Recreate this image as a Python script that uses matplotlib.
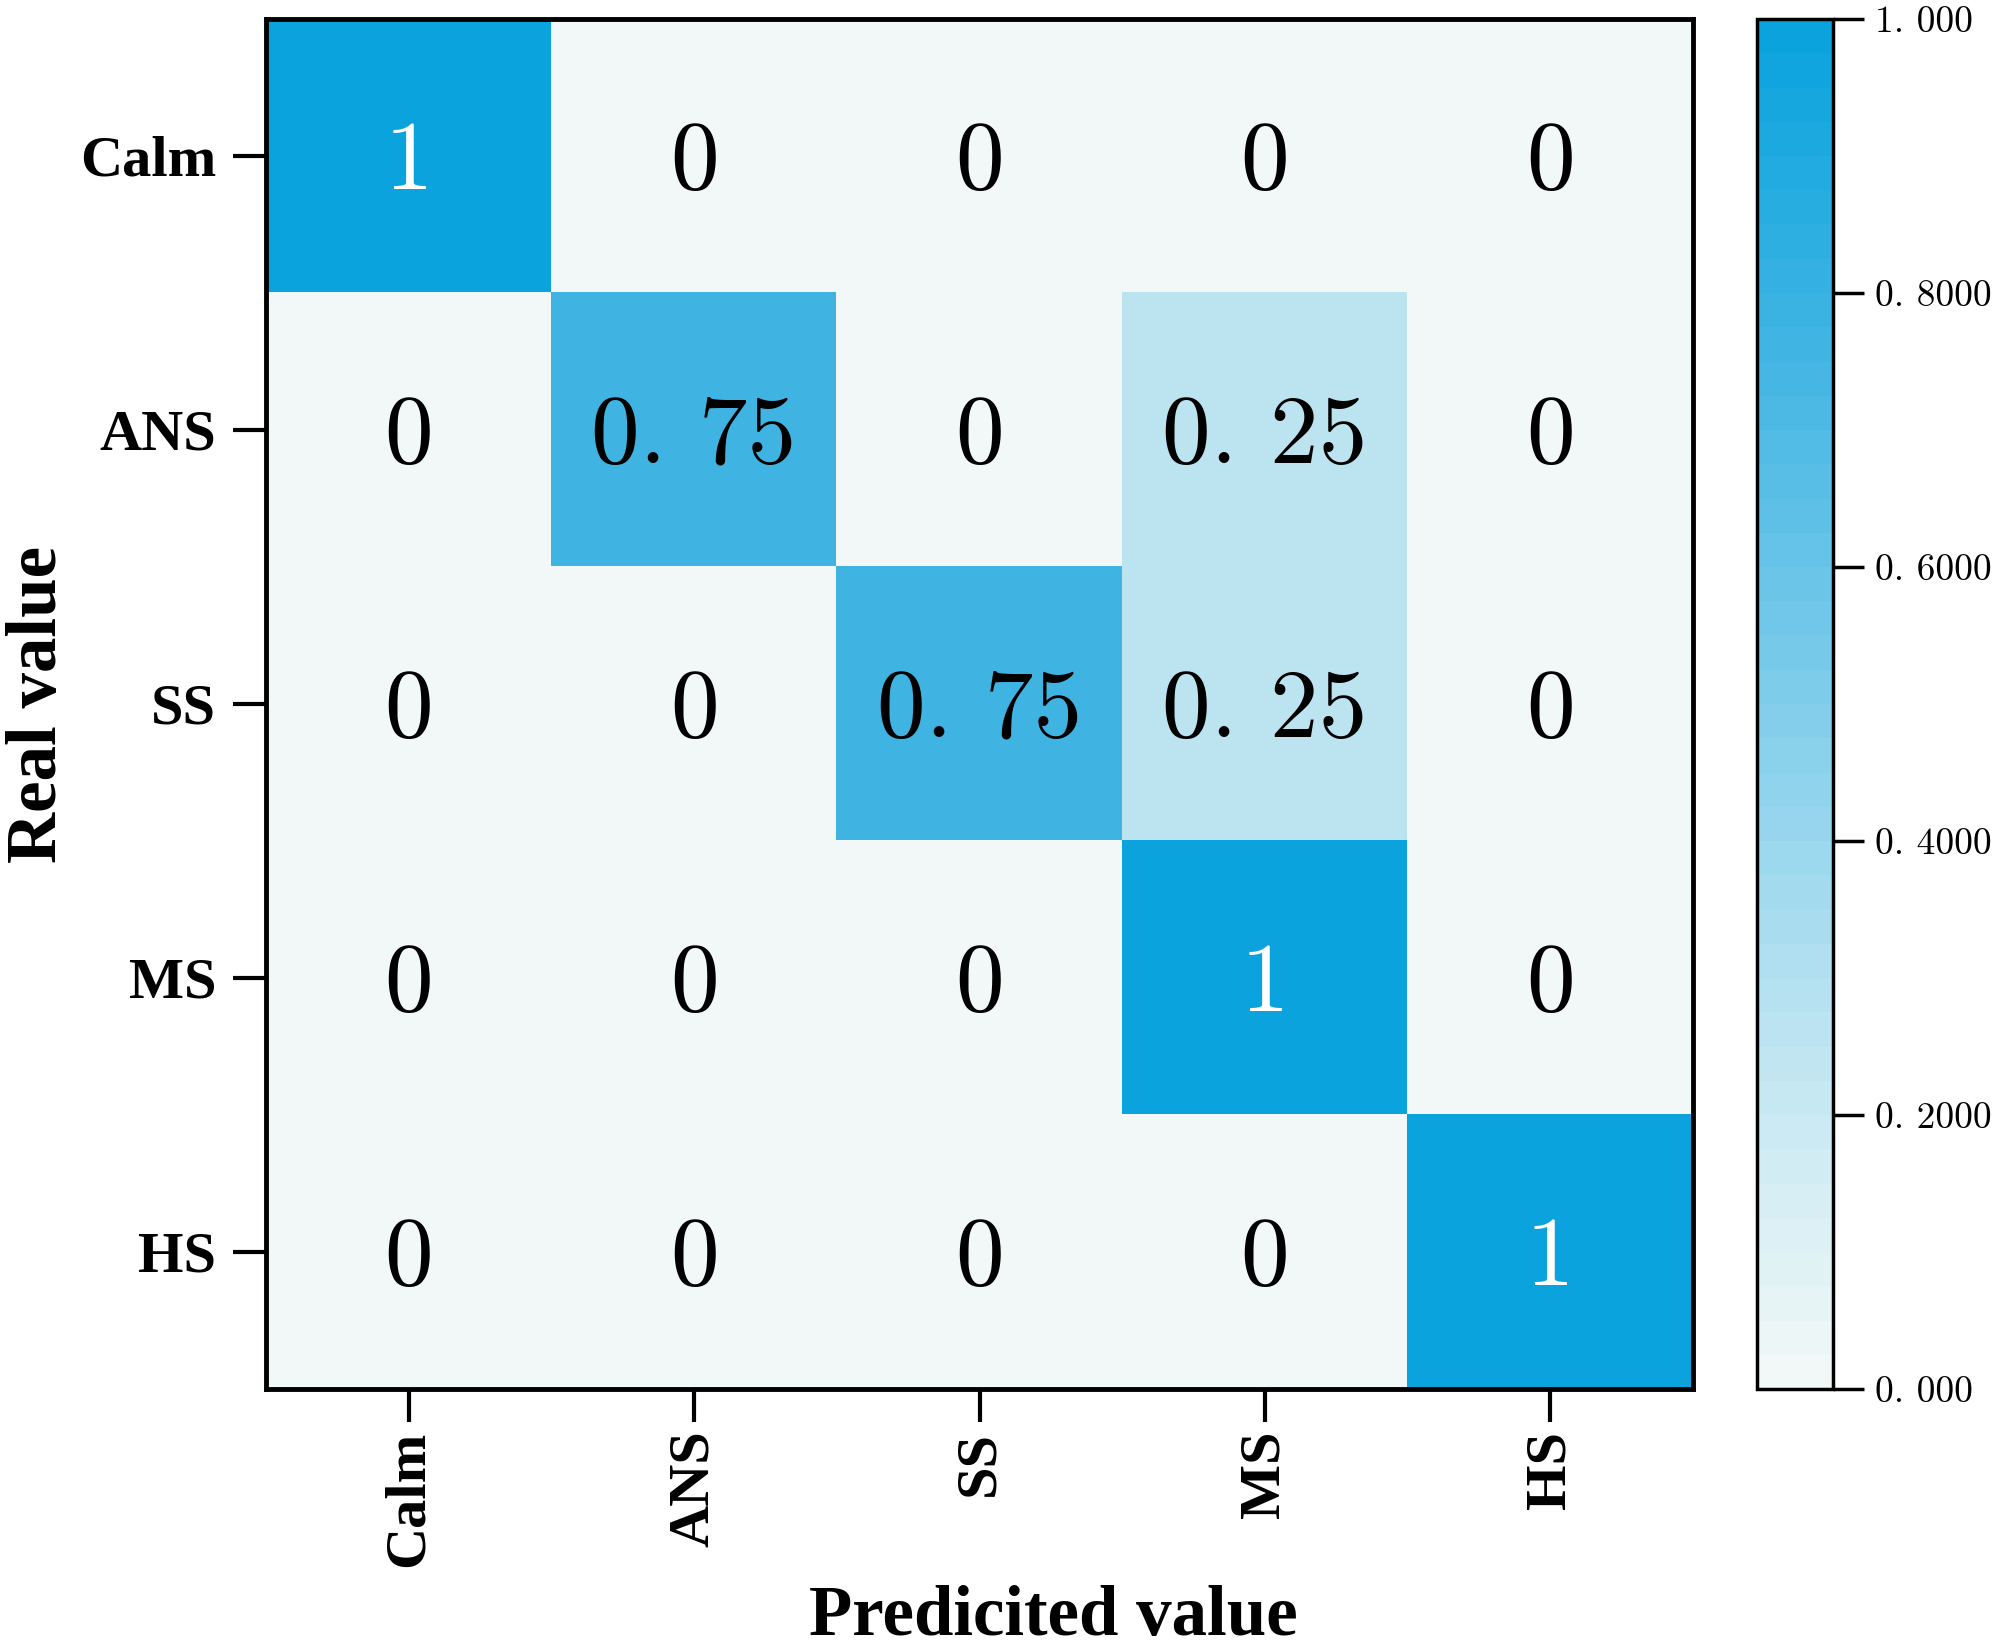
import matplotlib.pyplot as plt
import numpy as np
from matplotlib.colors import LinearSegmentedColormap

classes = ["Calm", "ANS", "SS", "MS", "HS"]
matrix = np.array([
    [1.0, 0.0, 0.0, 0.0, 0.0],
    [0.0, 0.75, 0.0, 0.25, 0.0],
    [0.0, 0.0, 0.75, 0.25, 0.0],
    [0.0, 0.0, 0.0, 1.0, 0.0],
    [0.0, 0.0, 0.0, 0.0, 1.0],
])
cbar_ticks = [0.0, 0.2, 0.4, 0.6, 0.8, 1.0]
cbar_labels = ["0. 000", "0. 2000", "0. 4000", "0. 6000", "0. 8000", "1. 000"]


def cell_text(v):
    if v == 0 or v == 1:
        return f"{int(v)}"
    return f"{v:.2f}".replace(".", ". ")


cmap = LinearSegmentedColormap.from_list(
    "blues",
    [(0.0, "#f1f8f7"), (0.25, "#bde4f1"), (0.75, "#44b6e4"), (1.0, "#0aa3dd")],
    N=40,
)

fig = plt.figure(figsize=(19.95, 16.47), dpi=100)
ax = fig.add_axes([266 / 1995, 1 - 1389 / 1647, 1427 / 1995, 1370 / 1647])
cax = fig.add_axes([1757 / 1995, 1 - 1389 / 1647, 76 / 1995, 1370 / 1647])

im = ax.imshow(matrix, cmap=cmap, vmin=0, vmax=1, aspect="auto")

for r in range(matrix.shape[0]):
    for c in range(matrix.shape[1]):
        v = matrix[r, c]
        color = "white" if v > 0.9 else "black"
        ax.text(c, r + 0.03, cell_text(v), ha="center", va="center",
                fontsize=70, family="cmr10", color=color)

ax.set_xticks(range(len(classes)))
ax.set_yticks(range(len(classes)))
ax.set_xticklabels(classes, rotation=90, family="Liberation Serif",
                   fontweight="bold", fontsize=42)
ax.set_yticklabels(classes, family="Liberation Serif",
                   fontweight="bold", fontsize=42)
ax.tick_params(axis="x", length=24, width=3, pad=6)
ax.tick_params(axis="y", length=24, width=3, pad=12)
for s in ax.spines.values():
    s.set_linewidth(3.5)

ax.set_xlabel("Predicited value", family="Liberation Serif",
              fontweight="bold", fontsize=51)
ax.xaxis.set_label_coords(0.552, -0.143)
ax.set_ylabel("Real value", family="Liberation Serif",
              fontweight="bold", fontsize=51, labelpad=6)

cb = fig.colorbar(im, cax=cax, ticks=cbar_ticks)
cb.ax.set_yticklabels(cbar_labels, family="cmr10", fontsize=27)
cb.ax.tick_params(length=22, width=2.5, pad=8)
cb.outline.set_linewidth(2.5)

fig.savefig("out.png", dpi=100)
